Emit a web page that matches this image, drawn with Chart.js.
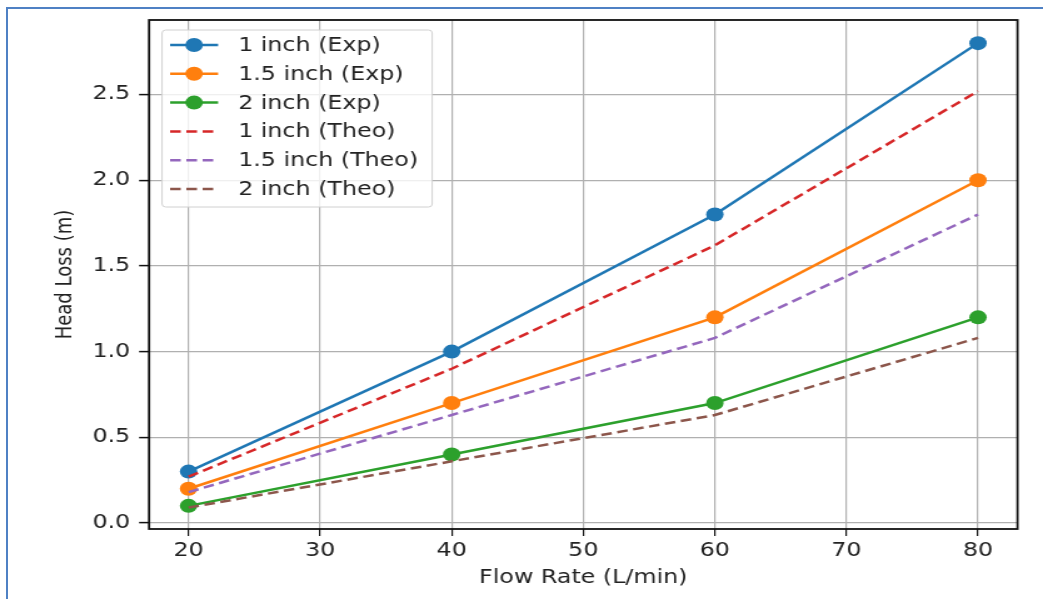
<!DOCTYPE html>
<html>
<head>
<meta charset="utf-8">
<script src="https://cdn.jsdelivr.net/npm/chart.js@4"></script>
<style>
  html, body { margin: 0; padding: 0; background: #fff; overflow: hidden; }
  #wrap { position: relative; width: 1043px; height: 599px; overflow: hidden; }
  #chart { position: absolute; left: 0; top: 0; }
  #frame {
    position: absolute; left: 6px; top: 7px; width: 1100px; height: 700px;
    border-left: 2px solid #4f81c4; border-top: 2px solid #4f81c4;
    pointer-events: none;
  }
</style>
</head>
<body>
<div id="wrap">
  <canvas id="chart" width="834" height="599" style="width:1043px;height:599px"></canvas>
  <div id="frame"></div>
</div>
<script>
// data
const flowRate = [20, 40, 60, 80];
const exp1 = [0.3, 1.0, 1.8, 2.8];
const exp15 = [0.2, 0.7, 1.2, 2.0];
const exp2 = [0.1, 0.4, 0.7, 1.2];
const theo1 = [0.27, 0.9, 1.62, 2.52];
const theo15 = [0.18, 0.63, 1.08, 1.8];
const theo2 = [0.09, 0.36, 0.63, 1.08];
const seriesLabels = ['1 inch (Exp)', '1.5 inch (Exp)', '2 inch (Exp)', '1 inch (Theo)', '1.5 inch (Theo)', '2 inch (Theo)'];
const xTicks = [20, 30, 40, 50, 60, 70, 80];
const yTicks = [0.0, 0.5, 1.0, 1.5, 2.0, 2.5];

const FONT = 'DejaVu Sans';
const pts = ys => flowRate.map((x, i) => ({ x: x, y: ys[i] }));

function expSet(label, ys, color, order) {
  return {
    label: label, data: pts(ys), borderColor: color, backgroundColor: color,
    borderWidth: 2.5, pointRadius: 7, pointHoverRadius: 7, pointBorderWidth: 0,
    order: order
  };
}
function theoSet(label, ys, color, order) {
  return {
    label: label, data: pts(ys), borderColor: color, backgroundColor: color,
    borderWidth: 2.5, borderDash: [8.5, 4.5], pointRadius: 0, order: order
  };
}

// spines on all four sides like matplotlib
const framePlugin = {
  id: 'frame',
  afterDatasetsDraw(chart) {
    const a = chart.chartArea, ctx = chart.ctx;
    ctx.save();
    ctx.strokeStyle = '#111';
    ctx.lineWidth = 1.8;
    ctx.strokeRect(a.left, a.top, a.right - a.left, a.bottom - a.top);
    ctx.restore();
  }
};

// legend box in the upper left corner of the axes
const boxLegend = {
  id: 'boxLegend',
  afterDraw(chart) {
    const ctx = chart.ctx;
    const x0 = 129.6, y0 = 30, w = 216, h = 177;
    ctx.save();
    ctx.beginPath();
    ctx.roundRect(x0, y0, w, h, 3);
    ctx.fillStyle = 'rgba(255,255,255,0.8)';
    ctx.fill();
    ctx.strokeStyle = '#d0d0d0';
    ctx.lineWidth = 1;
    ctx.stroke();
    ctx.font = '19px "' + FONT + '"';
    ctx.textBaseline = 'middle';
    chart.data.datasets.forEach((ds, i) => {
      const y = 45 + i * 28.8;
      ctx.beginPath();
      ctx.setLineDash(ds.borderDash || []);
      ctx.strokeStyle = ds.borderColor;
      ctx.lineWidth = ds.borderWidth;
      ctx.moveTo(136, y);
      ctx.lineTo(174.4, y);
      ctx.stroke();
      ctx.setLineDash([]);
      if (ds.pointRadius > 0) {
        ctx.beginPath();
        ctx.arc(155.2, y, ds.pointRadius, 0, Math.PI * 2);
        ctx.fillStyle = ds.borderColor;
        ctx.fill();
      }
      ctx.fillStyle = '#222';
      ctx.fillText(ds.label, 190.4, y + 1);
    });
    ctx.restore();
  }
};

new Chart(document.getElementById('chart'), {
  type: 'line',
  data: {
    datasets: [
      expSet(seriesLabels[0], exp1, '#1f77b4', 6),
      expSet(seriesLabels[1], exp15, '#ff7f0e', 5),
      expSet(seriesLabels[2], exp2, '#2ca02c', 4),
      theoSet(seriesLabels[3], theo1, '#d62728', 3),
      theoSet(seriesLabels[4], theo15, '#9467bd', 2),
      theoSet(seriesLabels[5], theo2, '#8c564b', 1)
    ]
  },
  options: {
    responsive: false,
    animation: false,
    events: [],
    layout: { padding: { left: 0, top: 20, right: 20.4, bottom: 0 } },
    plugins: { legend: { display: false }, tooltip: { enabled: false } },
    scales: {
      x: {
        type: 'linear', min: 17, max: 83,
        afterFit: s => { s.height = 70; },
        afterBuildTicks: s => { s.ticks = xTicks.map(v => ({ value: v })); },
        border: { display: false },
        grid: { color: '#b0b0b0', lineWidth: 1.2, tickColor: '#111', tickLength: 7, tickWidth: 1.2 },
        ticks: { color: '#222', font: { family: FONT, size: 19 }, padding: 4, maxRotation: 0 },
        title: { display: true, text: 'Flow Rate (L/min)', color: '#222', font: { family: FONT, size: 19 }, padding: { top: 0, bottom: 10 } }
      },
      y: {
        type: 'linear', min: -0.035, max: 2.935,
        afterFit: s => { s.width = 119.2; },
        afterBuildTicks: s => { s.ticks = yTicks.map(v => ({ value: v })); },
        border: { display: false },
        grid: { color: '#b0b0b0', lineWidth: 1.2, tickColor: '#111', tickLength: 8, tickWidth: 1.5 },
        ticks: { color: '#222', font: { family: FONT, size: 19 }, padding: 7, callback: v => v.toFixed(1) },
        title: { display: true, text: 'Head Loss (m)', color: '#222', font: { family: FONT, size: 18 }, padding: { top: 42, bottom: 0 } }
      }
    }
  },
  plugins: [framePlugin, boxLegend]
});
</script>
</body>
</html>
